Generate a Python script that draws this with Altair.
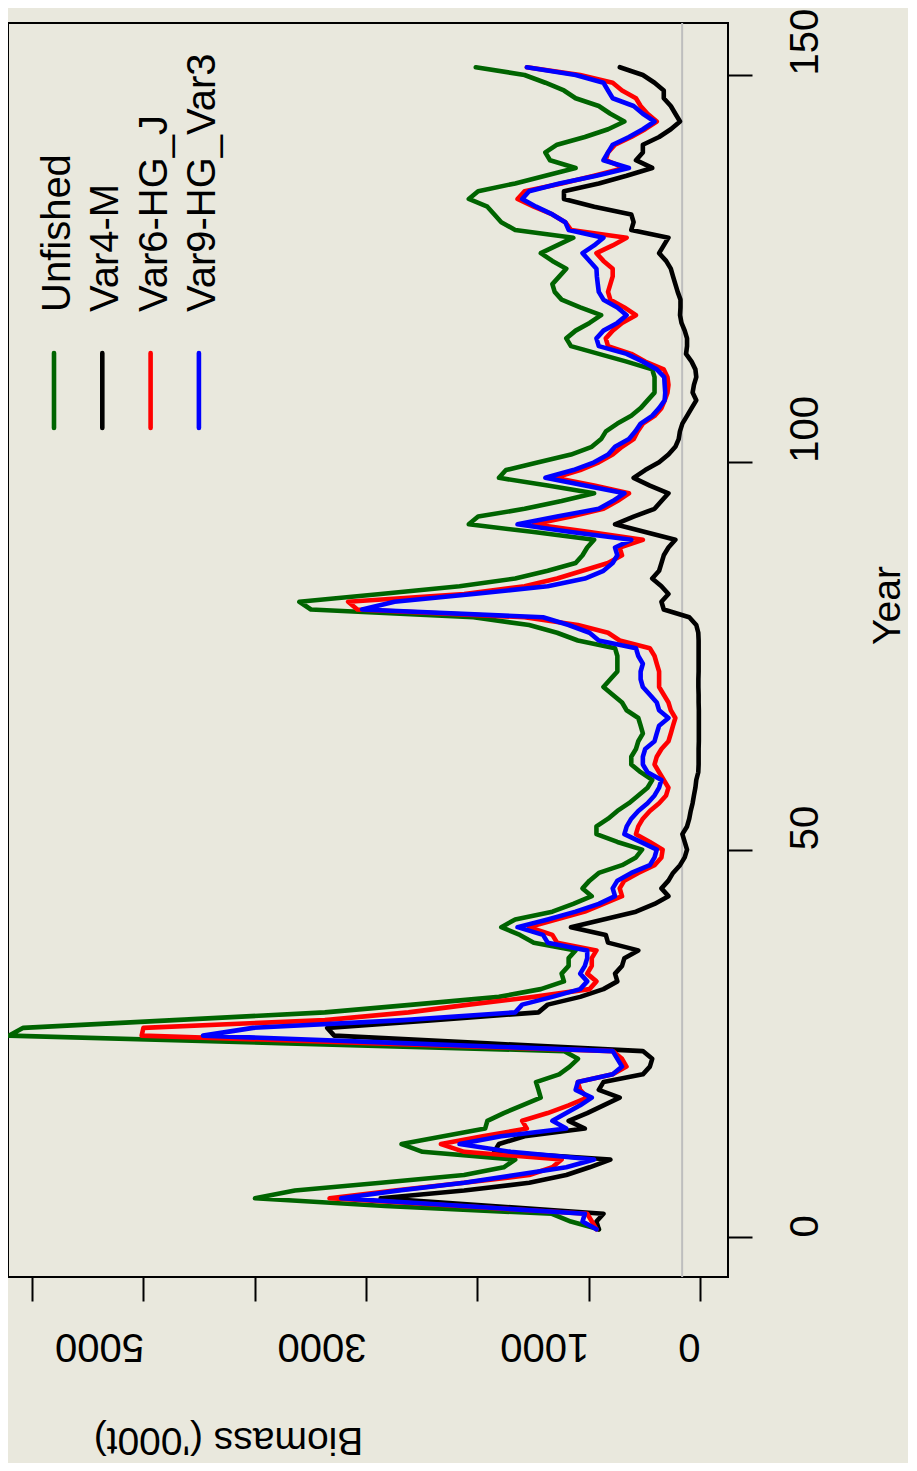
import altair as alt
import pandas as pd

FONT = "Liberation Sans"

years = list(range(1, 152))

unfished = [
    907, 1160, 1330, 2830, 3998, 3639, 2866, 2120, 1763, 1660,
    2493, 2681, 2306, 1930, 1910, 1763, 1597, 1431, 1451, 1473,
    1265, 1170, 1096, 1222, 3700, 6206, 6080, 4725, 3370, 2577,
    1806, 1430, 1222, 1243, 1180, 1180, 1117, 1493, 1618, 1785,
    1660, 1326, 1138, 972, 1055, 992, 909, 700, 575, 520,
    742, 930, 930, 825, 742, 638, 554, 471, 429, 533,
    617, 617, 575, 554, 513, 533, 554, 659, 700, 784,
    867, 805, 742, 742, 742, 763, 1097, 1284, 1535, 2035,
    3495, 3599, 2869, 2160, 1660, 1368, 1117, 1055, 1013, 951,
    1493, 2077, 1993, 1576, 1243, 951, 1368, 1806, 1743, 1451,
    1159, 972, 888, 845, 742, 617, 533, 471, 408, 408,
    408, 429, 659, 909, 1159, 1201, 1117, 992, 888, 1076,
    1243, 1305, 1326, 1263, 1201, 1326, 1430, 1284, 1138, 1660,
    1785, 1847, 1910, 2077, 1993, 1660, 1389, 1117, 1347, 1389,
    1284, 1034, 825, 679, 805, 909, 1117, 1222, 1389, 1576,
    2014,
]

var4_m = [
    909, 930, 867, 1868, 2869, 2119, 1534, 1201, 992, 805,
    1848, 1806, 1576, 1034, 1180, 1013, 867, 721, 909, 867,
    513, 450, 429, 513, 1910, 3286, 3349, 2390, 1451, 1368,
    1076, 867, 742, 763, 700, 679, 554, 826, 846, 1159,
    867, 575, 408, 283, 346, 283, 242, 179, 137, 116,
    137, 158, 116, 96, 83, 66, 54, 41, 33, 15,
    12, 12, 12, 10, 10, 10, 10, 10, 12, 12,
    14, 14, 12, 12, 12, 12, 12, 15, 33, 96,
    325, 346, 283, 346, 429, 367, 346, 325, 283, 221,
    492, 763, 596, 408, 346, 283, 450, 596, 492, 367,
    283, 221, 191, 180, 158, 116, 75, 33, 66, 54,
    33, 41, 75, 125, 116, 116, 137, 166, 179, 175,
    175, 200, 221, 242, 262, 304, 367, 325, 283, 617,
    596, 617, 950, 1222, 1222, 909, 659, 429, 575, 513,
    513, 367, 262, 179, 221, 262, 325, 325, 408, 513,
    720,
]

var6_hg_j = [
    930, 971, 1013, 2160, 3328, 2744, 2118, 1534, 1326, 1243,
    2118, 2327, 1952, 1555, 1597, 1368, 1180, 1013, 1076, 1097,
    784, 660, 700, 784, 2900, 5016, 5000, 3370, 2619, 2077,
    1493, 992, 930, 1013, 972, 972, 930, 1284, 1326, 1535,
    1284, 1034, 867, 700, 721, 680, 554, 408, 346, 335,
    450, 575, 554, 513, 450, 367, 304, 283, 325, 367,
    408, 388, 346, 283, 262, 242, 221, 262, 283, 325,
    367, 367, 367, 388, 408, 450, 721, 826, 1097, 1576,
    3078, 3161, 2118, 1576, 1284, 1055, 826, 700, 721, 513,
    992, 1493, 1159, 867, 742, 638, 951, 1305, 1076, 909,
    784, 700, 596, 560, 513, 408, 346, 317, 292, 283,
    292, 325, 492, 617, 826, 846, 784, 700, 575, 679,
    805, 826, 805, 784, 784, 867, 930, 784, 659, 1159,
    1210, 1326, 1493, 1639, 1576, 1243, 951, 679, 846, 826,
    763, 617, 492, 388, 471, 533, 575, 700, 784, 1076,
    1555,
]

var9_hg_var3 = [
    930, 1055, 1034, 2119, 3224, 2702, 2118, 1660, 1201, 951,
    1701, 2160, 1785, 1201, 1326, 1201, 1076, 972, 1117, 1097,
    784, 700, 742, 784, 2619, 4465, 4015, 2661, 1660, 1597,
    1326, 1076, 1013, 1076, 1034, 1013, 1013, 1368, 1410, 1639,
    1368, 1117, 909, 763, 784, 742, 617, 450, 408, 388,
    533, 679, 658, 617, 554, 471, 408, 367, 346, 471,
    513, 513, 492, 408, 388, 367, 283, 367, 388, 450,
    513, 533, 533, 513, 554, 575, 909, 992, 1180, 1410,
    3036, 2744, 2035, 1368, 1034, 867, 784, 742, 763, 617,
    1159, 1639, 1284, 909, 784, 679, 1034, 1389, 1138, 951,
    825, 763, 638, 580, 533, 429, 367, 317, 312, 317,
    321, 388, 513, 659, 909, 930, 867, 742, 659, 742,
    867, 909, 918, 926, 930, 992, 1055, 951, 867, 1180,
    1210, 1326, 1472, 1597, 1535, 1263, 930, 638, 867, 826,
    784, 638, 513, 408, 513, 596, 784, 826, 867, 1117,
    1555,
]

series_names = ["Unfished", "Var4-M", "Var6-HG_J", "Var9-HG_Var3"]
series_colors = ["#006400", "#000000", "#FF0000", "#0000FF"]
series_values = [unfished, var4_m, var6_hg_j, var9_hg_var3]

reference_level = [160]
biomass_ticks = [0, 1000, 2000, 3000, 4000, 5000, 6000]
year_ticks = [0, 50, 100, 150]

W, H = 720, 1254

x_enc = alt.X(
    "Biomass:Q",
    scale=alt.Scale(domain=[-252, 6217], reverse=True, nice=False, zero=False),
    axis=alt.Axis(
        values=biomass_ticks,
        labelExpr="(datum.value == 2000 || datum.value == 4000 || datum.value == 6000) ? '' : datum.label",
        format="d",
        title="Biomass ('000t)",
        titleAngle=180,
        titleX=220,
        titleY=150,
        titleAlign="center",
        titleBaseline="alphabetic",
        titleFont=FONT,
        titleFontSize=39,
        titleFontWeight="normal",
        titleColor="black",
        labelAngle=180,
        labelAlign="left",
        labelBaseline="alphabetic",
        labelPadding=32,
        labelFont=FONT,
        labelFontSize=40,
        labelColor="black",
        labelFlush=False,
        labelOverlap=False,
        tickSize=24,
        tickWidth=2,
        tickColor="black",
        domain=False,
        grid=False,
    ),
)

y_enc = alt.Y(
    "Year:Q",
    scale=alt.Scale(domain=[-5.16, 156.71], nice=False, zero=False),
    axis=alt.Axis(
        orient="right",
        values=year_ticks,
        format="d",
        title="Year",
        titleAngle=270,
        titleX=171,
        titleY=582,
        titleAlign="center",
        titleBaseline="alphabetic",
        titleFont=FONT,
        titleFontSize=39,
        titleFontWeight="normal",
        titleColor="black",
        labelAngle=270,
        labelAlign="left",
        labelBaseline="alphabetic",
        labelPadding=65,
        labelFont=FONT,
        labelFontSize=40,
        labelColor="black",
        labelFlush=False,
        labelOverlap=False,
        tickSize=24,
        tickWidth=2,
        tickColor="black",
        domain=False,
        grid=False,
    ),
)

layers = []

ref_df = pd.DataFrame({"Biomass": reference_level})
layers.append(
    alt.Chart(ref_df).mark_rule(color="#BEBEBE", strokeWidth=2).encode(x=x_enc)
)

for name, color, vals in zip(series_names, series_colors, series_values):
    d = pd.DataFrame({"Year": years, "Biomass": vals})
    layers.append(
        alt.Chart(d)
        .mark_line(color=color, strokeWidth=4.6, strokeJoin="round", strokeCap="round", clip=True)
        .encode(x=x_enc, y=y_enc, order=alt.Order("Year:Q"))
    )

one = pd.DataFrame({"k": [0]})
for i, (name, color) in enumerate(zip(series_names, series_colors)):
    lx = 46 + 48.3 * i
    layers.append(
        alt.Chart(one)
        .mark_rule(color=color, strokeWidth=4.6, strokeCap="round")
        .encode(x=alt.value(lx), y=alt.value(330), y2=alt.value(405))
    )
    layers.append(
        alt.Chart(one)
        .mark_text(angle=270, align="left", baseline="middle", fontSize=40, font=FONT, color="black")
        .encode(x=alt.value(lx + 4), y=alt.value(289), text=alt.value(name))
    )

chart = (
    alt.layer(*layers)
    .properties(
        width=W,
        height=H,
        autosize=alt.AutoSizeParams(type="none"),
        padding={"left": 0, "top": 15, "right": 180, "bottom": 186},
        background="#E9E8DD",
    )
    .configure_view(stroke="black", strokeWidth=2)
)

chart.save("out.html", embed_options={"renderer": "svg", "actions": False})
